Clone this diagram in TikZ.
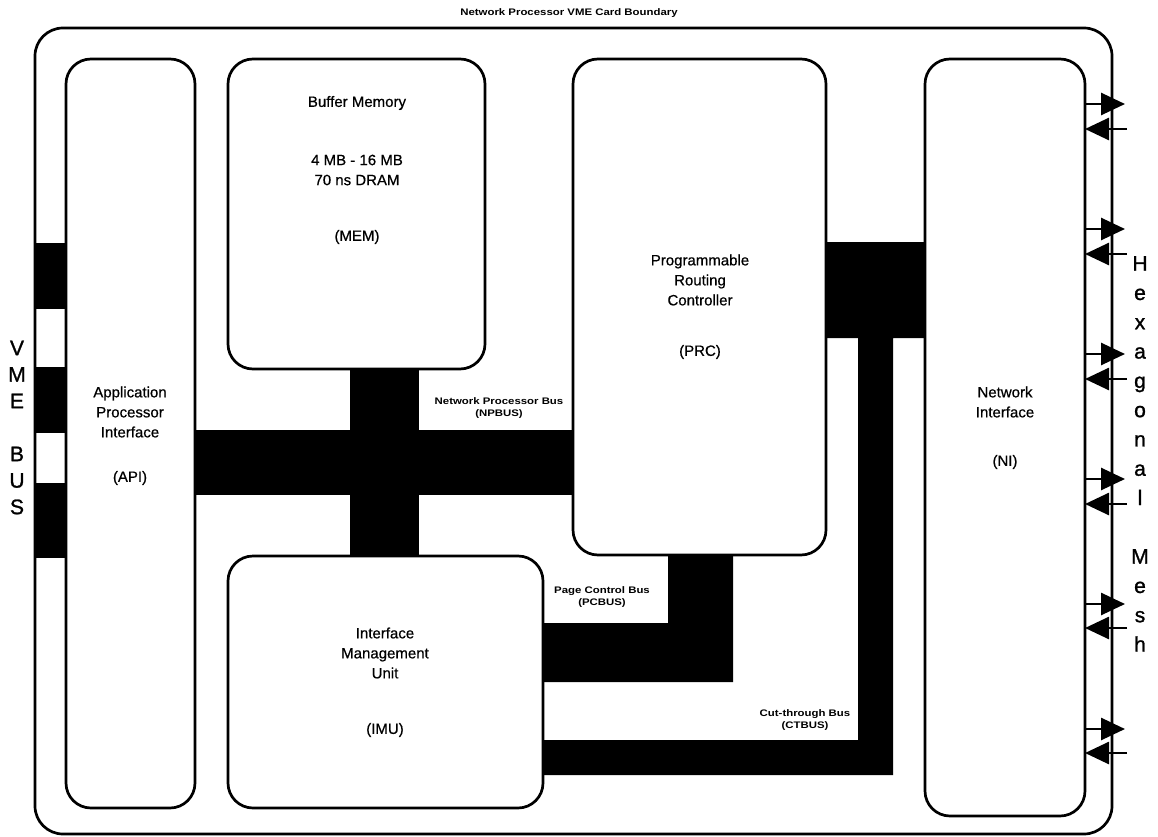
\documentclass[tikz,border=0pt]{standalone}
\usepackage{fontspec}
\setmainfont{Liberation Sans}
\newfontfamily\tagfont[FakeStretch=1.2]{Liberation Sans}
\newfontfamily\unitfont[FakeBold=0.6]{Liberation Sans}
\newfontfamily\sidefont[FakeBold=1.2]{Liberation Sans}
\usetikzlibrary{arrows.meta}
\begin{document}
\begin{tikzpicture}[x=1pt,y=-1pt,
  unit/.style={draw, line width=2.7pt, fill=white, rounded corners=25pt,
               inner sep=0pt, outer sep=0pt},
  card/.style={draw, line width=2.7pt, rounded corners=28pt,
               inner sep=0pt, outer sep=0pt},
  bus/.style={fill=black},
  lbl/.style={align=center, font=\unitfont\fontsize{15}{20}\selectfont, inner sep=0pt},
  tag/.style={align=center, font=\tagfont\bfseries\fontsize{9.5}{12}\selectfont, inner sep=0pt},
  edge/.style={align=center, inner sep=0pt, anchor=north},
  link/.style={line width=2.7pt, -{Triangle[length=24pt,width=22pt]}}
]
\useasboundingbox (0,0) rectangle (1158,837);

% card outline
\node[card, minimum width=1077pt, minimum height=806pt] (card) at (573.5,431) {};
\node[tag] (cardlbl) at (569,13) {Network Processor VME Card Boundary};

% unit centres
\path
  (130.5,433.5) coordinate (apic)
  (356.5,214)   coordinate (memc)
  (385.5,682)   coordinate (imuc)
  (699.5,307)   coordinate (prcc)
  (1005,437.5)  coordinate (nic);

% placeholders so the buses can refer to unit edges
\node[inner sep=0pt, outer sep=0pt, minimum width=129pt, minimum height=749pt] (api) at (apic) {};
\node[inner sep=0pt, outer sep=0pt, minimum width=257pt, minimum height=310pt] (mem) at (memc) {};
\node[inner sep=0pt, outer sep=0pt, minimum width=315pt, minimum height=252pt] (imu) at (imuc) {};
\node[inner sep=0pt, outer sep=0pt, minimum width=253pt, minimum height=496pt] (prc) at (prcc) {};
\node[inner sep=0pt, outer sep=0pt, minimum width=160pt, minimum height=757pt] (ni)  at (nic)  {};

% VME bus taps
\fill[bus] (card.west |- 0,243) rectangle (api.west |- 0,309);
\fill[bus] (card.west |- 0,367) rectangle (api.west |- 0,433);
\fill[bus] (card.west |- 0,483) rectangle (api.west |- 0,558);

% NPBUS
\fill[bus] (api.east |- 0,430) rectangle (prc.west |- 0,495);
\fill[bus] (mem.south -| 350,0) rectangle (imu.north -| 419,0);

% PCBUS
\fill[bus] (prc.south -| 668,0) -- (prc.south -| 733,0) -- (733,682)
  -- (imu.east |- 0,682) -- (imu.east |- 0,623) -- (668,623) -- cycle;

% PRC to NI link and CTBUS
\fill[bus] (prc.east |- 0,242) -- (ni.west |- 0,242) -- (ni.west |- 0,338)
  -- (893,338) -- (893,775) -- (imu.east |- 0,775) -- (imu.east |- 0,740)
  -- (858,740) -- (858,338) -- (prc.east |- 0,338) -- cycle;

% unit outlines
\node[unit, minimum width=129pt, minimum height=749pt] (apibox) at (apic) {};
\node[unit, minimum width=257pt, minimum height=310pt] (membox) at (memc) {};
\node[unit, minimum width=315pt, minimum height=252pt] (imubox) at (imuc) {};
\node[unit, minimum width=253pt, minimum height=496pt] (prcbox) at (prcc) {};
\node[unit, minimum width=160pt, minimum height=757pt] (nibox)  at (nic)  {};

% unit labels
\node[lbl] (mem1) at (357,103) {Buffer Memory};
\node[lbl] (mem2) at (357,170) {4 MB - 16 MB\\70 ns DRAM};
\node[lbl] (mem3) at (357,237) {(MEM)};
\node[lbl] (api1) at (130,412) {Application\\Processor\\Interface};
\node[lbl] (api2) at (130,478) {(API)};
\node[lbl] (prc1) at (700,280) {Programmable\\Routing\\Controller};
\node[lbl] (prc2) at (700,352) {(PRC)};
\node[lbl] (imu1) at (385,653) {Interface\\Management\\Unit};
\node[lbl] (imu2) at (385,730) {(IMU)};
\node[lbl] (ni1)  at (1005,402) {Network\\Interface};
\node[lbl] (ni2)  at (1005,462) {(NI)};

% bus labels
\node[tag] (npbus) at (499,408) {Network Processor Bus\\(NPBUS)};
\node[tag] (pcbus) at (602,597) {Page Control Bus\\(PCBUS)};
\node[tag] (ctbus) at (805,720) {Cut-through Bus\\(CTBUS)};

% mesh links on the right
\foreach \i/\yo/\yi in {1/104/129, 2/229/254, 3/354/379, 4/479/504, 5/604/628, 6/729/753} {
  \coordinate (out\i) at (1125,\yo);
  \coordinate (in\i) at (1127,\yi);
  \draw[link] (nibox.east |- out\i) -- (out\i);
  \draw[link] (in\i) -- (nibox.east |- in\i);
}

% side captions
\node[edge, font=\sidefont\fontsize{21}{26.5}\selectfont] (vme) at (17,340.5)
  {V\\M\\E\\[26.5pt]B\\U\\S};
\node[edge, font=\sidefont\fontsize{21}{29.3}\selectfont] (mesh) at (1140,256)
  {H\\e\\x\\a\\g\\o\\n\\a\\l\\[29.3pt]M\\e\\s\\h};
\end{tikzpicture}
\end{document}
